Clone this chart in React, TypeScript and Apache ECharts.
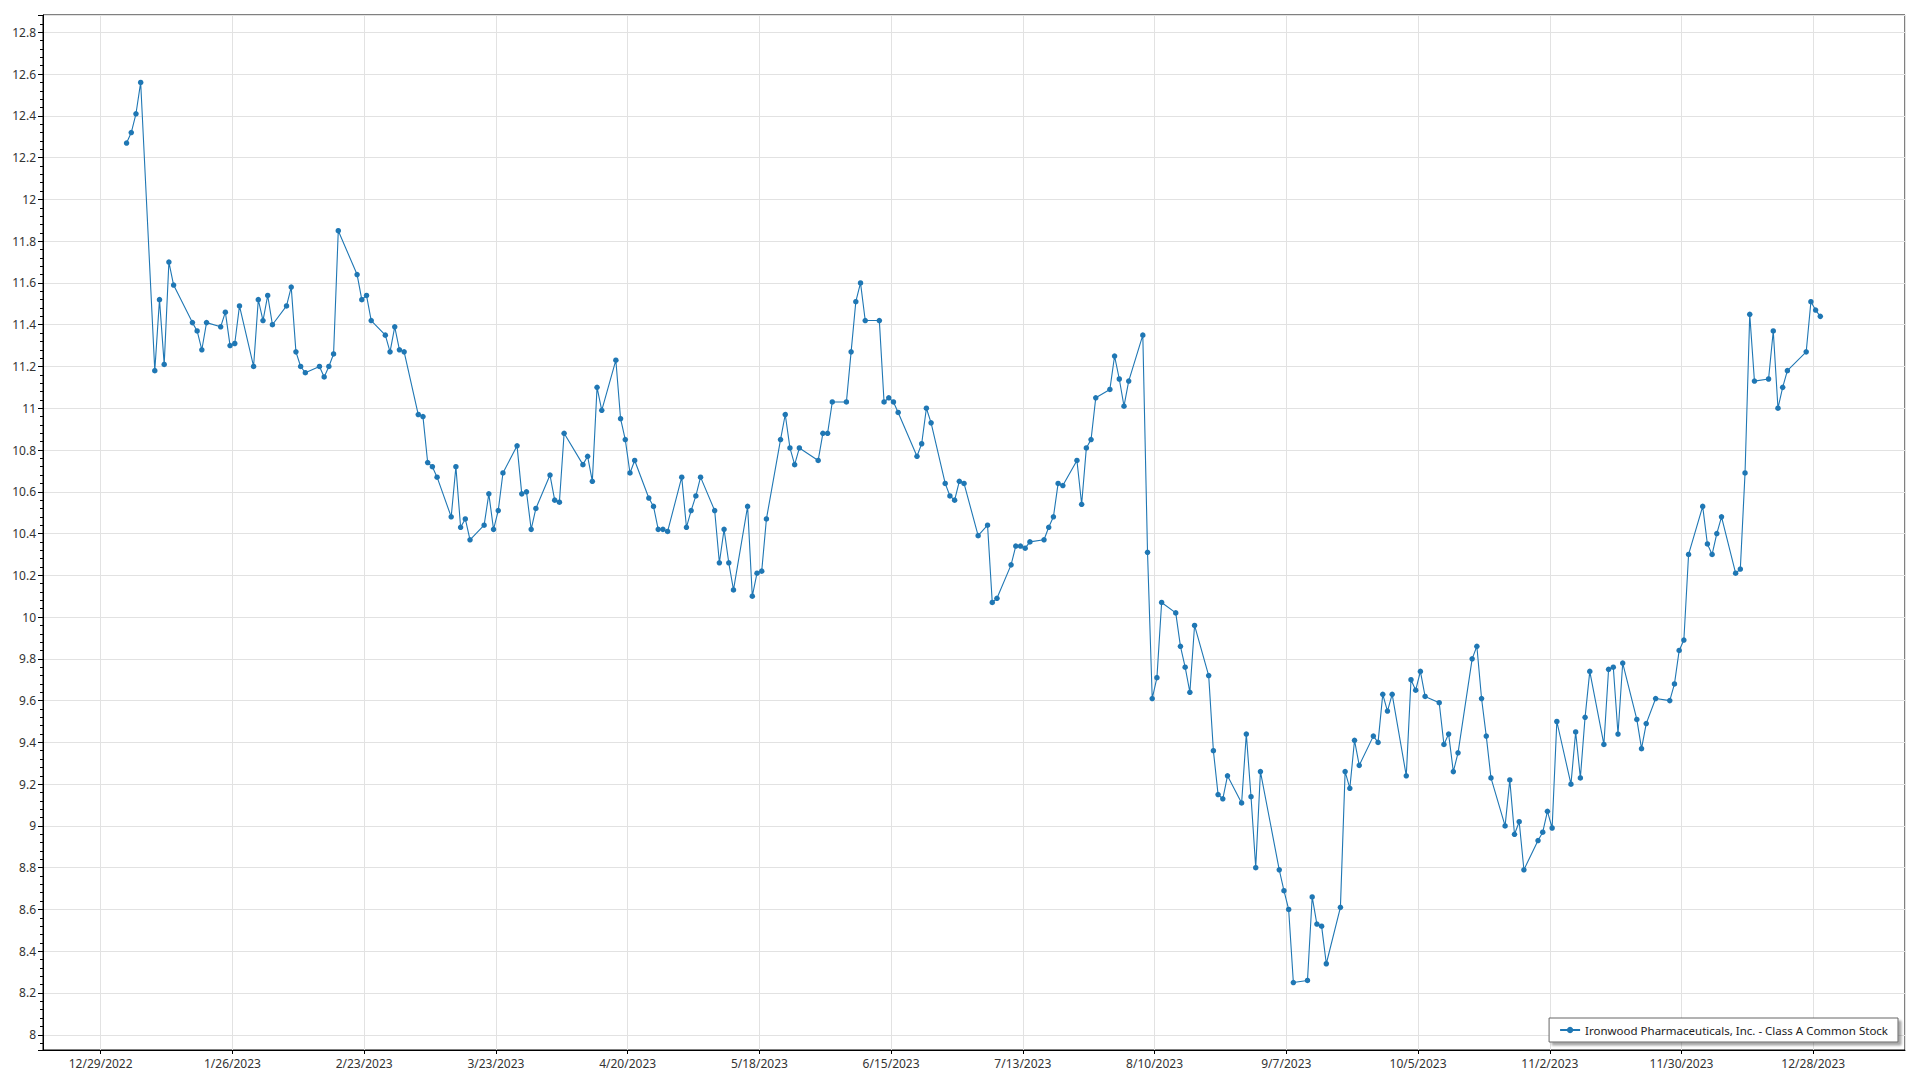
import React, { useEffect, useRef } from "react";
import * as echarts from "echarts";

const SERIES_NAME = "Ironwood Pharmaceuticals, Inc. - Class A Common Stock";

const dates: string[] = [
  "1/3/2023", "1/4/2023", "1/5/2023", "1/6/2023", "1/9/2023", "1/10/2023", "1/11/2023", "1/12/2023", "1/13/2023",
  "1/17/2023", "1/18/2023", "1/19/2023", "1/20/2023", "1/23/2023", "1/24/2023", "1/25/2023", "1/26/2023", "1/27/2023",
  "1/30/2023", "1/31/2023", "2/1/2023", "2/2/2023", "2/3/2023", "2/6/2023", "2/7/2023", "2/8/2023", "2/9/2023", "2/10/2023",
  "2/13/2023", "2/14/2023", "2/15/2023", "2/16/2023", "2/17/2023", "2/21/2023", "2/22/2023", "2/23/2023", "2/24/2023",
  "2/27/2023", "2/28/2023", "3/1/2023", "3/2/2023", "3/3/2023", "3/6/2023", "3/7/2023", "3/8/2023", "3/9/2023", "3/10/2023",
  "3/13/2023", "3/14/2023", "3/15/2023", "3/16/2023", "3/17/2023", "3/20/2023", "3/21/2023", "3/22/2023", "3/23/2023", "3/24/2023",
  "3/27/2023", "3/28/2023", "3/29/2023", "3/30/2023", "3/31/2023", "4/3/2023", "4/4/2023", "4/5/2023", "4/6/2023",
  "4/10/2023", "4/11/2023", "4/12/2023", "4/13/2023", "4/14/2023", "4/17/2023", "4/18/2023", "4/19/2023", "4/20/2023", "4/21/2023",
  "4/24/2023", "4/25/2023", "4/26/2023", "4/27/2023", "4/28/2023", "5/1/2023", "5/2/2023", "5/3/2023", "5/4/2023", "5/5/2023",
  "5/8/2023", "5/9/2023", "5/10/2023", "5/11/2023", "5/12/2023", "5/15/2023", "5/16/2023", "5/17/2023", "5/18/2023", "5/19/2023",
  "5/22/2023", "5/23/2023", "5/24/2023", "5/25/2023", "5/26/2023", "5/30/2023", "5/31/2023", "6/1/2023", "6/2/2023",
  "6/5/2023", "6/6/2023", "6/7/2023", "6/8/2023", "6/9/2023", "6/12/2023", "6/13/2023", "6/14/2023", "6/15/2023", "6/16/2023",
  "6/20/2023", "6/21/2023", "6/22/2023", "6/23/2023", "6/26/2023", "6/27/2023", "6/28/2023", "6/29/2023", "6/30/2023",
  "7/3/2023", "7/5/2023", "7/6/2023", "7/7/2023", "7/10/2023", "7/11/2023", "7/12/2023", "7/13/2023", "7/14/2023",
  "7/17/2023", "7/18/2023", "7/19/2023", "7/20/2023", "7/21/2023", "7/24/2023", "7/25/2023", "7/26/2023", "7/27/2023", "7/28/2023",
  "7/31/2023", "8/1/2023", "8/2/2023", "8/3/2023", "8/4/2023", "8/7/2023", "8/8/2023", "8/9/2023", "8/10/2023", "8/11/2023",
  "8/14/2023", "8/15/2023", "8/16/2023", "8/17/2023", "8/18/2023", "8/21/2023", "8/22/2023", "8/23/2023", "8/24/2023", "8/25/2023",
  "8/28/2023", "8/29/2023", "8/30/2023", "8/31/2023", "9/1/2023", "9/5/2023", "9/6/2023", "9/7/2023", "9/8/2023",
  "9/11/2023", "9/12/2023", "9/13/2023", "9/14/2023", "9/15/2023", "9/18/2023", "9/19/2023", "9/20/2023", "9/21/2023", "9/22/2023",
  "9/25/2023", "9/26/2023", "9/27/2023", "9/28/2023", "9/29/2023", "10/2/2023", "10/3/2023", "10/4/2023", "10/5/2023", "10/6/2023",
  "10/9/2023", "10/10/2023", "10/11/2023", "10/12/2023", "10/13/2023", "10/16/2023", "10/17/2023", "10/18/2023", "10/19/2023", "10/20/2023",
  "10/23/2023", "10/24/2023", "10/25/2023", "10/26/2023", "10/27/2023", "10/30/2023", "10/31/2023", "11/1/2023", "11/2/2023", "11/3/2023",
  "11/6/2023", "11/7/2023", "11/8/2023", "11/9/2023", "11/10/2023", "11/13/2023", "11/14/2023", "11/15/2023", "11/16/2023", "11/17/2023",
  "11/20/2023", "11/21/2023", "11/22/2023", "11/24/2023", "11/27/2023", "11/28/2023", "11/29/2023", "11/30/2023", "12/1/2023",
  "12/4/2023", "12/5/2023", "12/6/2023", "12/7/2023", "12/8/2023", "12/11/2023", "12/12/2023", "12/13/2023", "12/14/2023", "12/15/2023",
  "12/18/2023", "12/19/2023", "12/20/2023", "12/21/2023", "12/22/2023", "12/26/2023", "12/27/2023", "12/28/2023", "12/29/2023",
];

const prices: number[] = [
  12.27, 12.32, 12.41, 12.56, 11.18, 11.52, 11.21, 11.70, 11.59,
  11.41, 11.37, 11.28, 11.41, 11.39, 11.46, 11.30, 11.31, 11.49,
  11.20, 11.52, 11.42, 11.54, 11.40, 11.49, 11.58, 11.27, 11.20, 11.17,
  11.20, 11.15, 11.20, 11.26, 11.85, 11.64, 11.52, 11.54, 11.42,
  11.35, 11.27, 11.39, 11.28, 11.27, 10.97, 10.96, 10.74, 10.72, 10.67,
  10.48, 10.72, 10.43, 10.47, 10.37, 10.44, 10.59, 10.42, 10.51, 10.69,
  10.82, 10.59, 10.60, 10.42, 10.52, 10.68, 10.56, 10.55, 10.88,
  10.73, 10.77, 10.65, 11.10, 10.99, 11.23, 10.95, 10.85, 10.69, 10.75,
  10.57, 10.53, 10.42, 10.42, 10.41, 10.67, 10.43, 10.51, 10.58, 10.67,
  10.51, 10.26, 10.42, 10.26, 10.13, 10.53, 10.10, 10.21, 10.22, 10.47,
  10.85, 10.97, 10.81, 10.73, 10.81, 10.75, 10.88, 10.88, 11.03,
  11.03, 11.27, 11.51, 11.60, 11.42, 11.42, 11.03, 11.05, 11.03, 10.98,
  10.77, 10.83, 11.00, 10.93, 10.64, 10.58, 10.56, 10.65, 10.64,
  10.39, 10.44, 10.07, 10.09, 10.25, 10.34, 10.34, 10.33, 10.36,
  10.37, 10.43, 10.48, 10.64, 10.63, 10.75, 10.54, 10.81, 10.85, 11.05,
  11.09, 11.25, 11.14, 11.01, 11.13, 11.35, 10.31, 9.61, 9.71, 10.07,
  10.02, 9.86, 9.76, 9.64, 9.96, 9.72, 9.36, 9.15, 9.13, 9.24,
  9.11, 9.44, 9.14, 8.80, 9.26, 8.79, 8.69, 8.60, 8.25,
  8.26, 8.66, 8.53, 8.52, 8.34, 8.61, 9.26, 9.18, 9.41, 9.29,
  9.43, 9.40, 9.63, 9.55, 9.63, 9.24, 9.70, 9.65, 9.74, 9.62,
  9.59, 9.39, 9.44, 9.26, 9.35, 9.80, 9.86, 9.61, 9.43, 9.23,
  9.00, 9.22, 8.96, 9.02, 8.79, 8.93, 8.97, 9.07, 8.99, 9.50,
  9.20, 9.45, 9.23, 9.52, 9.74, 9.39, 9.75, 9.76, 9.44, 9.78,
  9.51, 9.37, 9.49, 9.61, 9.60, 9.68, 9.84, 9.89, 10.30,
  10.53, 10.35, 10.30, 10.40, 10.48, 10.21, 10.23, 10.69, 11.45, 11.13,
  11.14, 11.37, 11.00, 11.10, 11.18, 11.27, 11.51, 11.47, 11.44,
];

const ORIGIN = Date.UTC(2022, 11, 29);
const DAY = 86400000;
const TICK_DAYS = 28;

function toDay(s: string): number {
  const [m, d, y] = s.split("/").map(Number);
  return (Date.UTC(y, m - 1, d) - ORIGIN) / DAY + 0.5;
}

function fmtDate(v: number): string {
  const r = Math.round(v);
  if (Math.abs(v - r) > 1e-6 || r % TICK_DAYS !== 0) return "";
  const dt = new Date(ORIGIN + r * DAY);
  return `${dt.getUTCMonth() + 1}/${dt.getUTCDate()}/${dt.getUTCFullYear()}`;
}

function fmtVal(v: number): string {
  const r = Math.round(v * 5) / 5;
  if (Math.abs(v - r) > 1e-6) return "";
  return String(Math.round(r * 10) / 10);
}

const FONT = "'Segoe UI', 'Noto Sans', sans-serif";

export default function App() {
  const ref = useRef<HTMLDivElement>(null);
  useEffect(() => {
    if (!ref.current) return;
    const chart = echarts.init(ref.current, undefined, { renderer: "svg" });
    const data = dates.map((d, i) => [toDay(d), prices[i]]);
    chart.setOption({
      animation: false,
      backgroundColor: "#ffffff",
      textStyle: { fontFamily: FONT },
      grid: {
        left: 43,
        top: 15,
        right: 15,
        bottom: 30,
        show: true,
        borderColor: "#000",
        borderWidth: 1,
        backgroundColor: "transparent",
      },
      legend: {
        right: 22,
        bottom: 38,
        padding: [6, 10, 6, 10],
        itemWidth: 20,
        itemHeight: 8,
        itemGap: 6,
        backgroundColor: "#ffffff",
        borderColor: "#666",
        borderWidth: 1,
        borderRadius: 0,
        shadowColor: "rgba(0,0,0,0.35)",
        shadowBlur: 2,
        shadowOffsetX: 3,
        shadowOffsetY: 3,
        textStyle: { color: "#222", fontSize: 11.5, fontFamily: FONT },
        data: [SERIES_NAME],
      },
      xAxis: {
        type: "value",
        min: -12.26,
        max: 383.5,
        minInterval: TICK_DAYS,
        maxInterval: TICK_DAYS,
        splitNumber: 14,
        axisLine: { show: true, onZero: false, lineStyle: { color: "#000", width: 1 } },
        axisTick: { show: true, length: 4, lineStyle: { color: "#000" } },
        axisLabel: {
          formatter: fmtDate,
          color: "#333",
          fontSize: 12,
          margin: 7,
          showMinLabel: false,
          showMaxLabel: false,
          fontFamily: FONT,
        },
        splitLine: { show: true, lineStyle: { color: "#e2e2e2", width: 1 } },
      },
      yAxis: {
        type: "value",
        min: 7.927,
        max: 12.883,
        minInterval: 0.2,
        maxInterval: 0.2,
        splitNumber: 24,
        axisLine: { show: true, onZero: false, lineStyle: { color: "#000", width: 1 } },
        axisTick: { show: true, length: 5, lineStyle: { color: "#000" } },
        minorTick: { show: true, splitNumber: 5, length: 3, lineStyle: { color: "#000" } },
        axisLabel: {
          formatter: fmtVal,
          color: "#333",
          fontSize: 12,
          margin: 7,
          showMinLabel: false,
          showMaxLabel: false,
          fontFamily: FONT,
        },
        splitLine: { show: true, lineStyle: { color: "#e2e2e2", width: 1 } },
      },
      series: [
        {
          name: SERIES_NAME,
          type: "line",
          data,
          symbol: "circle",
          symbolSize: 5.5,
          showSymbol: true,
          lineStyle: { color: "#1f77b4", width: 1.1 },
          itemStyle: { color: "#1f77b4" },
        },
      ],
    });
    return () => chart.dispose();
  }, []);
  return (
    <div
      ref={ref}
      style={{ position: "absolute", left: 0, top: 0, width: 1920, height: 1080 }}
    />
  );
}
